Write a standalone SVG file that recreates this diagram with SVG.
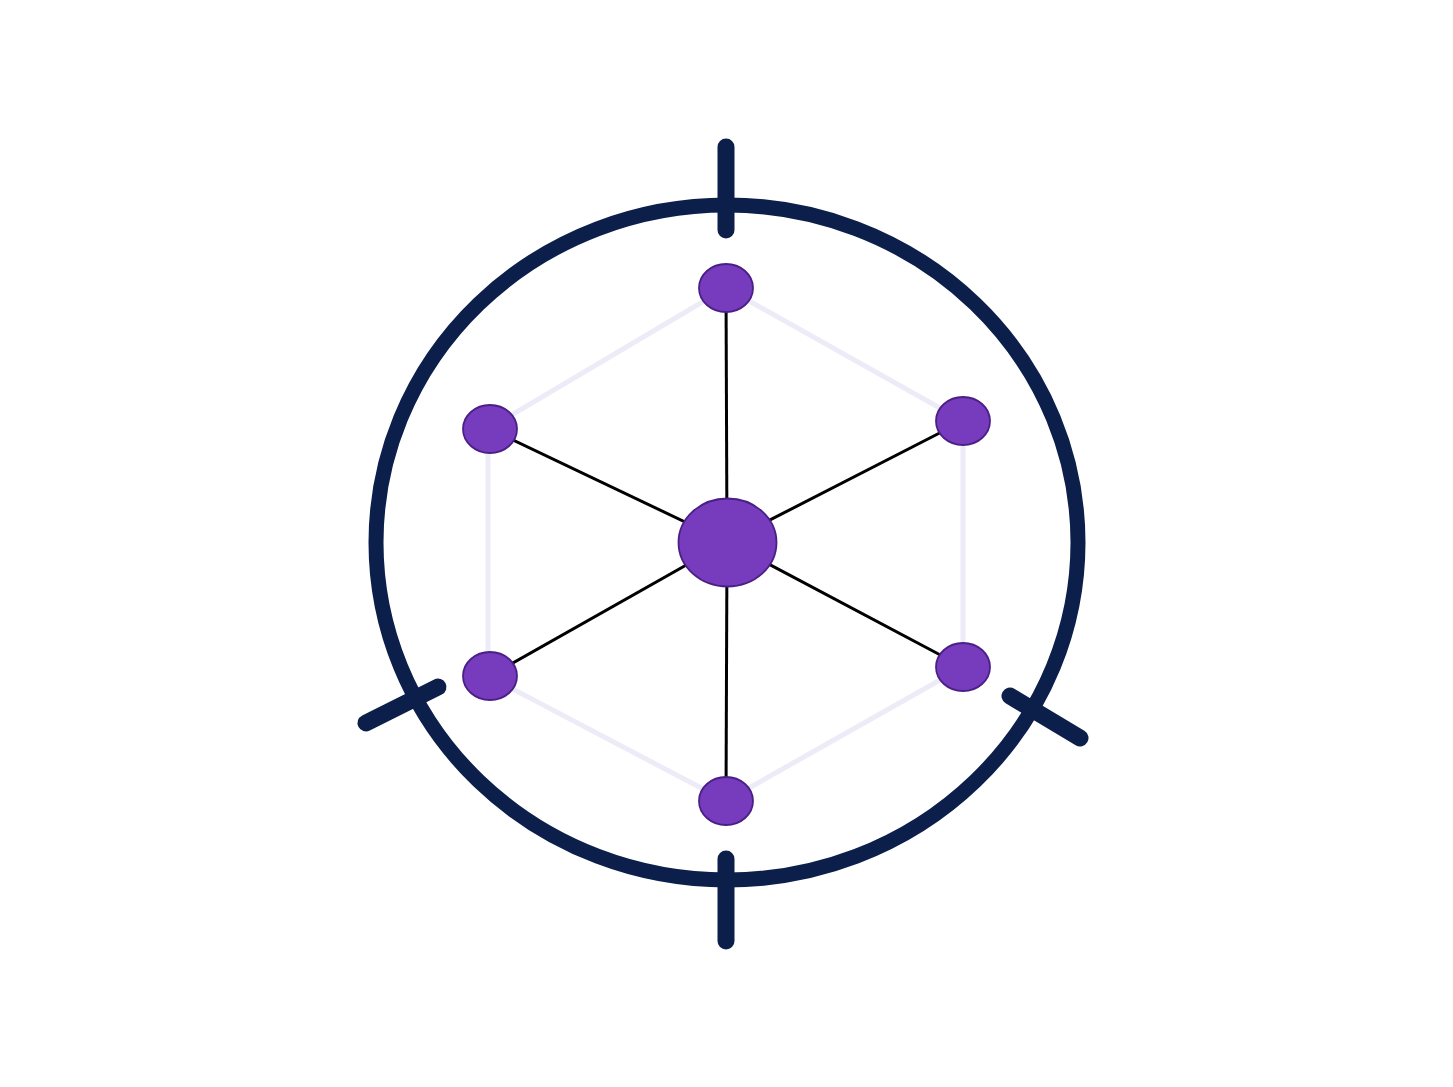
<svg xmlns="http://www.w3.org/2000/svg" width="1453" height="1087" viewBox="0 0 1453 1087">
  <style>
    .ring { fill: none; stroke: #0c1f4b; stroke-width: 15; }
    .tick { stroke: #0c1f4b; stroke-width: 17; stroke-linecap: round; fill: none; }
    .hex { fill: none; stroke: #eeebf8; stroke-width: 5; stroke-linejoin: round; }
    .spoke { stroke: #000; stroke-width: 3; }
    .node { fill: #773bbd; stroke: #4a1f86; stroke-width: 1.8; }
  </style>
  <rect width="1453" height="1087" fill="#ffffff"/>
  <g id="frame">
    <ellipse class="ring" cx="727" cy="542.5" rx="351" ry="337.5"/>
    <line class="tick" x1="726" y1="147" x2="726" y2="230"/>
    <line class="tick" x1="726" y1="859" x2="726" y2="941"/>
    <line class="tick" x1="366" y1="723" x2="438" y2="687"/>
    <line class="tick" x1="1010" y1="696" x2="1080" y2="738"/>
  </g>
  <g id="connectors">
    <polygon class="hex" points="726,288 963,421 963,667 726,801 488,676 488,429"/>
    <line class="spoke" x1="727" y1="542" x2="726" y2="288"/>
    <line class="spoke" x1="727" y1="542" x2="963" y2="421"/>
    <line class="spoke" x1="727" y1="542" x2="963" y2="667"/>
    <line class="spoke" x1="727" y1="542" x2="726" y2="801"/>
    <line class="spoke" x1="727" y1="542" x2="490" y2="676"/>
    <line class="spoke" x1="727" y1="542" x2="490" y2="429"/>
  </g>
  <g id="node-center"><ellipse class="node" cx="727.5" cy="542.5" rx="49" ry="44"/></g>
  <g id="node-top"><ellipse class="node" cx="726" cy="288" rx="27" ry="24"/></g>
  <g id="node-upper-right"><ellipse class="node" cx="963" cy="421" rx="27" ry="24"/></g>
  <g id="node-lower-right"><ellipse class="node" cx="963" cy="667" rx="27" ry="24"/></g>
  <g id="node-bottom"><ellipse class="node" cx="726" cy="801" rx="27" ry="24"/></g>
  <g id="node-lower-left"><ellipse class="node" cx="490" cy="676" rx="27" ry="24"/></g>
  <g id="node-upper-left"><ellipse class="node" cx="490" cy="429" rx="27" ry="24"/></g>
</svg>
